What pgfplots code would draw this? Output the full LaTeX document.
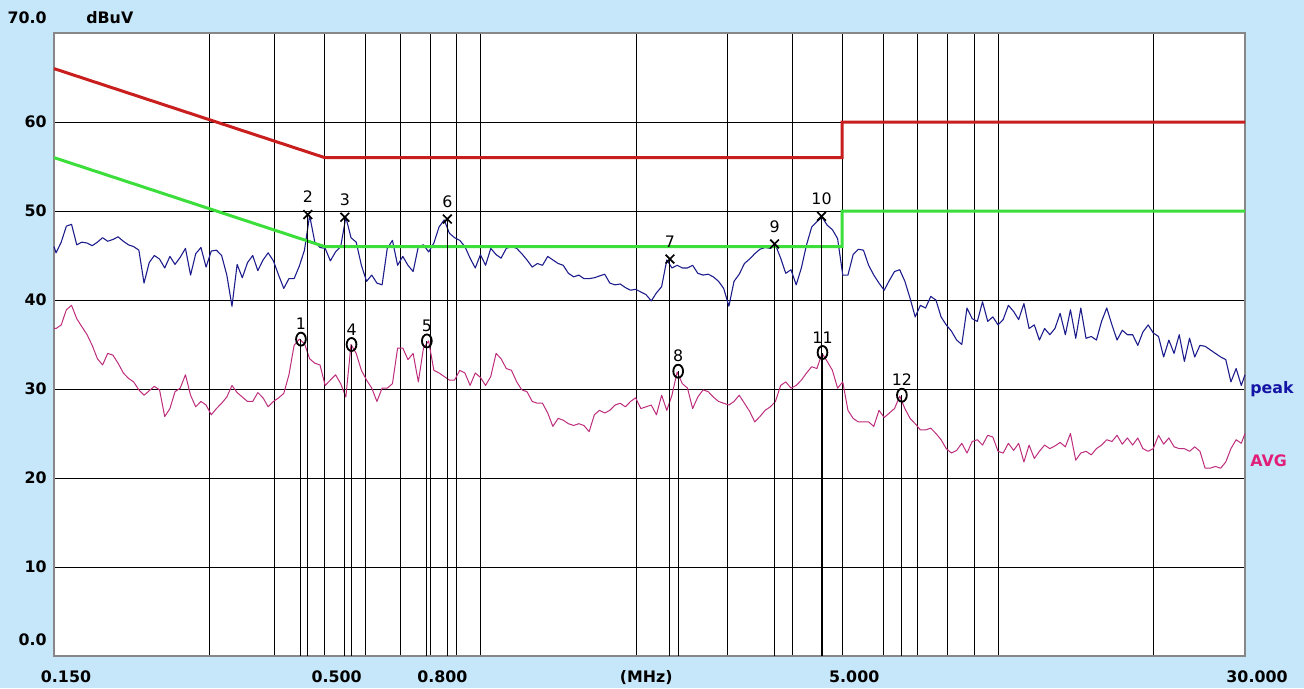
\documentclass[border=0pt]{standalone}
\usepackage{pgfplots}
\pgfplotsset{compat=1.18}
\usepackage{pgfplotstable}
\usepackage{fontspec}
\setmainfont{DejaVu Sans}

\definecolor{bgblue}{RGB}{198,230,249}
\definecolor{pkblue}{RGB}{28,28,140}
\definecolor{pklabel}{RGB}{20,20,165}
\definecolor{avmag}{RGB}{190,45,125}
\definecolor{avlabel}{RGB}{225,30,120}
\definecolor{limred}{RGB}{200,30,30}
\definecolor{limgreen}{RGB}{60,222,60}
\definecolor{framegrey}{RGB}{135,135,135}

% measured scan: frequency (MHz), peak detector, average detector (dBuV)
\pgfplotstableread{
f pk av
0.1500 46.0 36.8
0.1514 45.3 36.8
0.1549 46.5 37.2
0.1585 48.3 38.9
0.1622 48.5 39.4
0.1660 46.2 37.9
0.1698 46.5 37.0
0.1738 46.4 36.1
0.1778 46.1 34.9
0.1820 46.5 33.4
0.1862 47.0 32.7
0.1905 46.6 34.0
0.1950 46.8 33.8
0.1995 47.1 32.9
0.2042 46.6 31.8
0.2089 46.2 31.2
0.2138 46.0 30.8
0.2188 45.6 29.9
0.2239 41.9 29.3
0.2291 44.2 29.8
0.2344 45.0 30.3
0.2399 44.6 29.9
0.2455 43.6 26.9
0.2512 44.9 27.8
0.2570 44.0 29.7
0.2630 44.8 30.1
0.2692 45.8 31.6
0.2754 42.8 29.3
0.2818 45.2 28.0
0.2884 45.9 28.6
0.2951 43.7 28.2
0.3020 45.5 27.1
0.3090 45.6 27.8
0.3162 45.0 28.4
0.3236 42.8 29.1
0.3311 39.3 30.4
0.3388 44.0 29.6
0.3467 42.5 29.1
0.3548 44.2 28.6
0.3631 45.0 28.6
0.3715 43.3 29.6
0.3802 44.5 29.0
0.3890 45.3 28.0
0.3981 44.4 28.6
0.4074 42.8 29.0
0.4169 41.3 29.5
0.4266 42.4 31.6
0.4365 42.4 34.9
0.4467 43.8 35.6
0.4571 45.6 35.1
0.4677 49.5 33.4
0.4786 46.5 32.9
0.4898 45.9 32.7
0.5012 45.8 30.4
0.5129 44.4 31.0
0.5248 45.4 31.6
0.5370 46.0 30.6
0.5495 49.3 29.1
0.5623 47.0 35.0
0.5754 46.5 34.0
0.5888 43.9 32.1
0.6026 42.1 31.0
0.6166 42.8 30.1
0.6310 41.9 28.6
0.6457 41.7 30.1
0.6607 45.8 30.1
0.6761 46.7 30.6
0.6918 43.9 34.6
0.7079 44.9 34.6
0.7244 43.9 33.3
0.7413 43.2 34.0
0.7586 46.0 30.8
0.7762 46.2 34.6
0.7943 45.4 35.4
0.8128 46.4 32.1
0.8318 48.2 31.8
0.8511 49.0 31.4
0.8710 47.5 31.0
0.8913 47.0 31.0
0.9120 46.7 32.1
0.9333 46.0 31.8
0.9550 44.7 30.4
0.9772 43.6 31.8
1.000 45.1 31.3
1.023 43.9 30.4
1.047 45.8 31.4
1.072 45.1 34.0
1.096 44.7 33.4
1.122 45.8 32.3
1.148 46.0 32.1
1.175 45.8 30.8
1.202 45.2 29.9
1.230 44.5 29.7
1.259 43.7 28.6
1.288 44.1 28.4
1.318 43.9 28.4
1.349 44.9 27.3
1.380 44.5 25.8
1.413 44.1 26.7
1.445 43.9 26.5
1.479 43.0 26.1
1.514 42.6 25.9
1.549 42.8 26.1
1.585 42.4 25.9
1.622 42.4 25.2
1.660 42.5 27.1
1.698 42.7 27.6
1.738 42.9 27.3
1.778 41.9 27.6
1.820 41.7 28.2
1.862 41.8 28.4
1.905 41.4 28.0
1.950 41.1 28.6
1.995 41.2 29.0
2.042 40.9 27.8
2.089 40.6 28.0
2.138 39.9 28.2
2.188 40.8 27.1
2.239 41.5 29.3
2.291 44.5 27.6
2.344 43.6 29.3
2.399 43.9 31.9
2.455 43.6 30.6
2.512 43.6 30.1
2.570 43.9 27.8
2.630 43.0 29.1
2.692 42.8 29.9
2.754 42.9 29.7
2.818 42.6 29.1
2.884 42.1 28.6
2.951 41.3 28.4
3.020 39.3 28.2
3.090 42.1 28.6
3.162 42.9 29.3
3.236 44.1 28.4
3.311 44.6 27.5
3.388 45.2 26.3
3.467 45.7 26.9
3.548 45.9 27.6
3.631 45.8 28.0
3.715 46.2 28.6
3.802 44.7 30.4
3.890 43.0 30.8
3.981 43.4 30.1
4.074 41.7 30.4
4.169 43.6 31.0
4.266 46.2 31.8
4.365 48.2 32.5
4.467 48.8 32.3
4.571 49.3 34.0
4.677 48.4 33.1
4.786 47.9 32.1
4.898 46.9 30.1
5.012 42.8 30.8
5.129 42.8 27.6
5.248 45.1 26.7
5.370 45.7 26.3
5.495 45.6 26.3
5.623 43.9 26.3
5.754 42.8 25.8
5.888 41.9 27.6
6.026 41.1 26.8
6.166 42.2 27.3
6.310 43.2 27.8
6.457 43.4 29.2
6.607 42.1 27.8
6.761 40.2 26.7
6.918 38.1 26.1
7.079 39.4 25.4
7.244 39.1 25.4
7.413 40.4 25.6
7.586 40.0 25.0
7.762 38.1 24.3
7.943 37.2 23.3
8.128 36.5 22.8
8.318 35.5 23.1
8.511 35.0 23.9
8.710 39.1 22.8
8.913 37.9 24.1
9.120 37.6 24.3
9.333 39.8 23.7
9.550 37.6 24.8
9.772 38.1 24.6
10.00 37.2 23.0
10.23 37.8 22.8
10.47 39.4 23.9
10.72 38.7 23.1
10.96 37.8 23.9
11.22 39.6 21.8
11.48 36.8 23.7
11.75 37.2 22.2
12.02 35.5 23.0
12.30 36.8 23.7
12.59 36.1 23.3
12.88 36.8 23.6
13.18 38.5 24.0
13.49 36.1 23.5
13.80 38.9 25.0
14.13 35.7 22.0
14.45 39.1 22.8
14.79 35.7 23.0
15.14 35.9 22.6
15.49 35.5 23.3
15.85 37.6 23.7
16.22 39.1 24.3
16.60 37.2 24.1
16.98 35.5 24.8
17.38 36.6 23.8
17.78 36.1 24.5
18.20 36.1 23.7
18.62 34.9 24.5
19.05 36.4 23.3
19.50 37.2 23.0
19.95 36.3 23.3
20.42 35.9 24.8
20.89 33.6 23.8
21.38 35.5 24.5
21.88 34.0 23.5
22.39 36.1 23.3
22.91 33.1 23.3
23.44 35.7 23.0
23.99 33.6 23.5
24.55 34.9 23.0
25.12 34.8 21.1
25.70 34.4 21.1
26.30 34.0 21.3
26.92 33.6 21.1
27.54 33.3 21.8
28.18 30.8 23.3
28.84 32.3 24.3
29.51 30.4 23.9
30.00 31.6 25.0
}\scan

% limit lines (quasi-peak and average)
\pgfplotstableread{
f qp av
0.15 66 56
0.5 56 46
5 56 46
5 60 50
30 60 50
}\limits

% peak markers
\pgfplotstableread{
f v n
0.464 49.6 2
0.547 49.3 3
0.863 49.1 6
2.323 44.6 7
3.700 46.3 9
4.560 49.4 10
}\pkmarks

% average markers
\pgfplotstableread{
f v n
0.450 35.6 1
0.5636 35.0 4
0.788 35.4 5
2.410 32.0 8
4.580 34.1 11
6.520 29.3 12
}\avmarks

\newcommand{\tickfont}{\fontsize{9.5}{11}\selectfont\bfseries}
\newcommand{\markfont}{\fontsize{9.5}{11}\selectfont}

\begin{document}
\begin{tikzpicture}
\fill[bgblue] (-32.4pt,-19.2pt) rectangle (750pt,393.6pt);
\begin{axis}[
  at={(0pt,0pt)}, anchor=south west,
  scale only axis, width=714.6pt, height=373.8pt,
  xmode=log, xmin=0.15, xmax=30, ymin=0, ymax=70,
  clip=false,
  axis background/.style={fill=white},
  axis line style={draw=framegrey, line width=1.2pt},
  grid=major, major grid style={black, line width=0.6pt},
  major tick length=0pt,
  xtick={0.15,0.3,0.4,0.5,0.6,0.7,0.8,0.9,1,2,3,4,5,6,7,8,9,10,20,30},
  xticklabels={0.150,,,0.500,,,0.800,,,,,,5.000,,,,,,,30.000},
  ytick={0,10,20,30,40,50,60,70},
  yticklabels={,10,20,30,40,50,60,},
  xticklabel style={font=\tickfont, anchor=base, inner sep=0pt, yshift=-15.6pt, xshift=7.2pt},
  yticklabel style={font=\tickfont, anchor=east, inner sep=0pt, xshift=-4.2pt},
]
% measured traces
\addplot[pkblue, line width=0.65pt, line join=round] table[x=f, y=pk] {\scan};
\addplot[avmag, line width=0.6pt, line join=round] table[x=f, y=av] {\scan};
% limits
\addplot[limred, line width=1.8pt] table[x=f, y=qp] {\limits};
\addplot[limgreen, line width=1.8pt] table[x=f, y=av] {\limits};
% marker lines with symbols and numbers
\addplot[ycomb, black, line width=0.6pt, mark=x, mark size=3.7pt,
  mark options={line width=1pt},
  nodes near coords, point meta=explicit symbolic,
  every node near coord/.style={anchor=base, inner sep=0pt, yshift=7pt, font=\markfont, black}]
  table[x=f, y=v, meta=n] {\pkmarks};
\addplot[ycomb, black, line width=0.6pt, mark=o, mark size=3.9pt,
  mark options={line width=1.1pt, xscale=0.75},
  nodes near coords, point meta=explicit symbolic,
  every node near coord/.style={anchor=base, inner sep=0pt, yshift=5.6pt, font=\markfont, black}]
  table[x=f, y=v, meta=n] {\avmarks};
% scale texts
\node[anchor=east, inner sep=0pt, font=\tickfont] at (rel axis cs:0,1) [xshift=-4.2pt, yshift=9pt] {70.0};
\node[anchor=east, inner sep=0pt, font=\tickfont] at (rel axis cs:0,0) [xshift=-4.2pt, yshift=9.6pt] {0.0};
\node[anchor=west, inner sep=0pt, font=\tickfont] at (rel axis cs:0,1) [xshift=19.2pt, yshift=9pt] {dBuV};
\node[anchor=base, inner sep=0pt, font=\tickfont] at (axis cs:2.09,0) [yshift=-15.6pt] {(MHz)};
\node[anchor=west, inner sep=0pt, font=\tickfont, text=pklabel] at (axis cs:30,30) [xshift=3pt] {peak};
\node[anchor=west, inner sep=0pt, font=\tickfont, text=avlabel] at (axis cs:30,21.9) [xshift=3pt] {AVG};
\end{axis}
\end{tikzpicture}
\end{document}
